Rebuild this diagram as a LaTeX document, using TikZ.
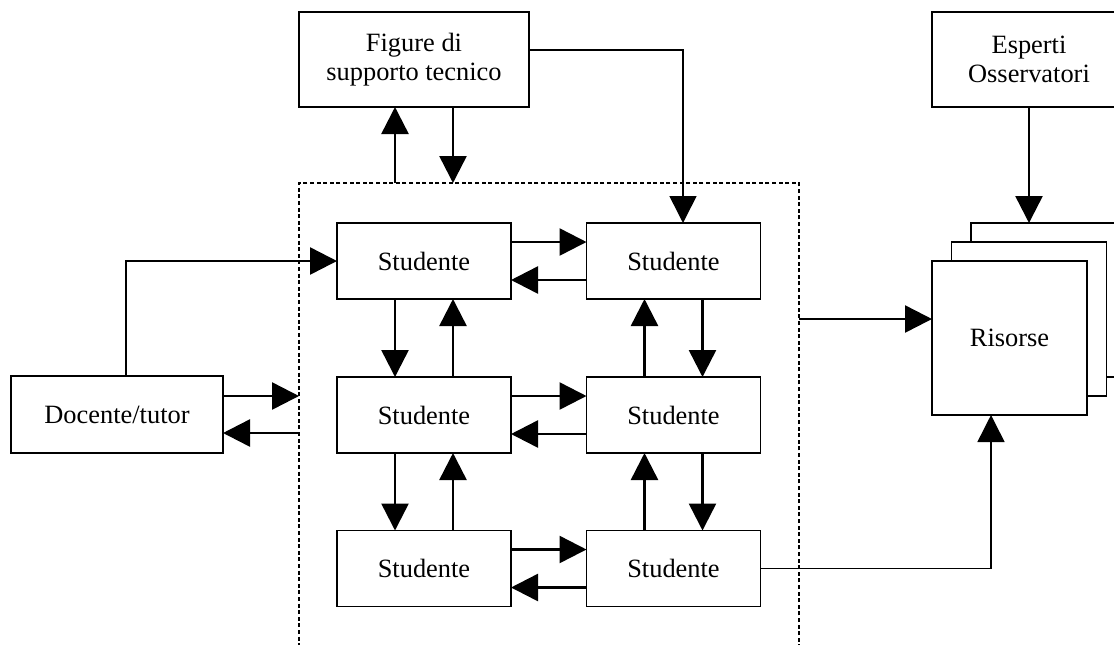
\documentclass[tikz,border=0pt]{standalone}
\usepackage{fontspec}
\setmainfont{Liberation Serif}
\usetikzlibrary{arrows.meta,calc}
\begin{document}
\begin{tikzpicture}[x=0.5pt,y=-0.5pt,
  box/.style={draw, line width=0.8pt, fill=white, inner sep=0pt, outer sep=0pt,
    align=center, font=\fontsize{13.2}{14.5}\selectfont},
  studbox/.style={box, minimum width=87pt, minimum height=38pt},
  group/.style={draw, line width=1.1pt, dash pattern=on 2pt off 1.3pt,
    inner sep=0pt, outer sep=0pt, minimum width=250pt, minimum height=233.5pt},
  tip/.style={-{Triangle[length=13.5pt,width=13.5pt]}},
  arr/.style={tip, line width=1.25pt},
  thinarr/.style={tip, line width=0.75pt}
]
\fill[white] (0,0) rectangle (1114,644);
\useasboundingbox (0,0) rectangle (1114,644);
\clip (0,0) rectangle (1114,644);

% working group enclosing the students
\node[group] (grp) at (549,416.5) {};

% upper boxes
\node[box, minimum width=115pt, minimum height=47.5pt] (fig) at (414,59.5)
  {Figure di\\supporto tecnico};
\node[box, minimum width=97pt, minimum height=47.5pt] (esp) at (1029,59.5)
  {Esperti\\Osservatori};

% teacher
\node[box, minimum width=106pt, minimum height=38.5pt] (doc) at (117,414.5)
  {Docente/tutor};

% students
\node[studbox] (s11) at (424,261)   {Studente};
\node[studbox] (s12) at (673.5,261) {Studente};
\node[studbox] (s21) at (424,415)   {Studente};
\node[studbox] (s22) at (673.5,415) {Studente};
\node[studbox] (s31) at (424,568.5) {Studente};
\node[studbox] (s32) at (673.5,568.5) {Studente};

% stacked resources
\node[box, minimum width=77.5pt, minimum height=77pt] (ris3) at (1048.5,300) {};
\node[box, minimum width=77.5pt, minimum height=77pt] (ris2) at (1029,319) {};
\node[box, minimum width=77.5pt, minimum height=77pt] (ris1) at (1009.5,338) {Risorse};

% teacher links
\draw[arr] (126,0 |- doc.north) |- (s11.west);
\draw[arr] (doc.east |- 0,396) -- (grp.west |- 0,396);
\draw[arr] (grp.west |- 0,433) -- (doc.east |- 0,433);

% technical support links
\draw[arr] (grp.north -| 395,0) -- (fig.south -| 395,0);
\draw[arr] (fig.south -| 453,0) -- (grp.north -| 453,0);
\draw[thinarr] (fig.east |- 0,50) -| (683,0 |- s12.north);

% exchanges between students
\foreach \r in {1,2,3}{
  \draw[arr] ($(s\r1.north east)+(0,19)$) -- ($(s\r2.north west)+(0,19)$);
  \draw[arr] ($(s\r2.north west)+(0,57)$) -- ($(s\r1.north east)+(0,57)$);
}
\foreach \a/\b in {1/2,2/3}{
  \draw[arr] ($(s\a1.south west)+(58,0)$) -- ($(s\b1.north west)+(58,0)$);
  \draw[arr] ($(s\b1.north west)+(116,0)$) -- ($(s\a1.south west)+(116,0)$);
  \draw[arr] ($(s\b2.north west)+(58,0)$) -- ($(s\a2.south west)+(58,0)$);
  \draw[arr] ($(s\a2.south west)+(116,0)$) -- ($(s\b2.north west)+(116,0)$);
}

% resources links
\draw[arr] (grp.east |- 0,319) -- (ris1.west |- 0,319);
\draw[thinarr] (s32.east) -| (991,0 |- ris1.south);
\draw[arr] (esp.south) -- (esp.south |- ris3.north);
\end{tikzpicture}
\end{document}
